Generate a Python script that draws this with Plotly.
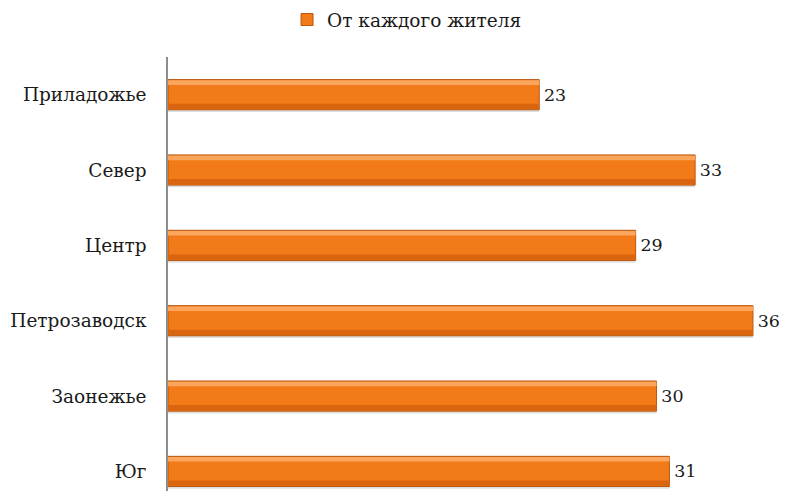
import plotly.graph_objects as go

categories = ["Приладожье", "Север", "Центр", "Петрозаводск", "Заонежье", "Юг"]
values = [23.1, 32.8, 29.1, 36.4, 30.4, 31.2]
series_name = "От каждого жителя"

FONT = "DejaVu Serif"
FS = 18.5
fig = go.Figure()

# soft shadow
fig.add_trace(go.Bar(y=categories, x=values, orientation="h", width=0.42, offset=-0.19,
                     marker=dict(color="rgba(0,0,0,0.13)", line=dict(width=0)),
                     showlegend=False, hoverinfo="skip"))
# main bar
fig.add_trace(go.Bar(y=categories, x=values, orientation="h", width=0.4, offset=-0.2,
                     name=series_name,
                     marker=dict(color="#F27A18", line=dict(color="#B9570F", width=1)),
                     text=values, texttemplate="\u200a%{x:.0f}", textposition="outside",
                     textfont=dict(family=FONT, size=17.5, color="#1a1a1a"),
                     cliponaxis=False))
# top highlight
fig.add_trace(go.Bar(y=categories, x=values, orientation="h", width=0.06, offset=-0.19,
                     marker=dict(color="#FBA65C", line=dict(width=0)),
                     showlegend=False, hoverinfo="skip"))
# bottom darker band
fig.add_trace(go.Bar(y=categories, x=values, orientation="h", width=0.07, offset=0.12,
                     marker=dict(color="#D9650F", line=dict(width=0)),
                     showlegend=False, hoverinfo="skip"))

# page body has an 8px margin, so the figure is drawn smaller and offset
fig.update_layout(
    width=780, height=483,
    barmode="overlay",
    plot_bgcolor="white", paper_bgcolor="white",
    margin=dict(l=160, r=0, t=49, b=0, autoexpand=False),
    font=dict(family=FONT, size=FS, color="#1a1a1a"),
    showlegend=True,
    legend=dict(orientation="h", x=0.192, xanchor="left", y=1 - 12 / 483, yanchor="middle",
                yref="container", font=dict(family=FONT, size=FS),
                itemwidth=30, bgcolor="rgba(0,0,0,0)"),
)
fig.update_xaxes(range=[0, 38.58], showgrid=False, showticklabels=False, zeroline=False,
                 showline=False, ticks="")
fig.update_yaxes(categoryorder="array", categoryarray=categories, automargin=False,
                 range=[5.26, -0.5], showgrid=False, zeroline=False,
                 showline=True, linecolor="#8c8c8c", linewidth=1.5, ticks="",
                 ticklabelstandoff=16, tickfont=dict(family=FONT, size=FS))

fig.write_html("out.html")
